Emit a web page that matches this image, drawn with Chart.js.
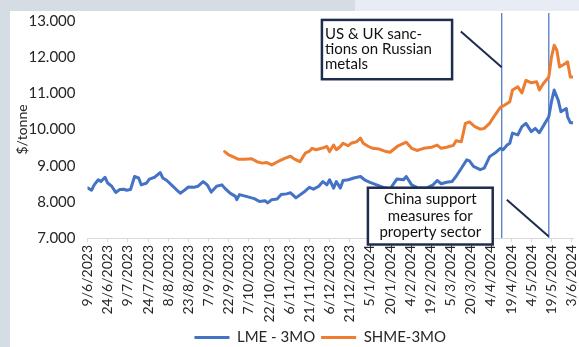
<!DOCTYPE html>
<html>
<head>
<meta charset="utf-8"/>
<title>LME vs SHME 3-month aluminium</title>
<script src="https://cdn.jsdelivr.net/npm/chart.js"></script>
<style>
  html, body { margin: 0; padding: 0; background: #fff; }
</style>
</head>
<body>
<canvas id="priceChart" width="579" height="347"></canvas>
<script>
// Day offsets are counted from 9/6/2023
const tickLabels = ['9/6/2023', '24/6/2023', '9/7/2023', '24/7/2023', '8/8/2023', '23/8/2023',
  '7/9/2023', '22/9/2023', '7/10/2023', '22/10/2023', '6/11/2023', '21/11/2023', '6/12/2023',
  '21/12/2023', '5/1/2024', '20/1/2024', '4/2/2024', '19/2/2024', '5/3/2024', '20/3/2024',
  '4/4/2024', '19/4/2024', '4/5/2024', '19/5/2024', '3/6/2024'];

const lmeDays = [0, 3, 5, 8, 10, 13, 15, 18, 21, 24, 27, 29, 32, 35, 38, 40, 44, 46, 50, 54, 56, 59,
  63, 66, 69, 71, 75, 79, 82, 86, 89, 92, 96, 100, 102, 106, 110, 111, 113, 118, 124, 128, 132, 134,
  137, 141, 144, 148, 151, 155, 162, 165, 168, 172, 175, 178, 180, 183, 185, 188, 190, 194, 198, 203,
  206, 210, 215, 220, 225, 230, 235, 237, 241, 246, 252, 257, 260, 263, 267, 271, 274, 278, 282, 284,
  287, 292, 295, 299, 303, 307, 309, 312, 314, 316, 320, 323, 326, 330, 333, 336, 339, 343, 345, 347,
  350, 352, 356, 357, 359, 361];
const lmeValues = [8390, 8320, 8470, 8610, 8560, 8680, 8520, 8430, 8260, 8340, 8350, 8320, 8340, 8700,
  8660, 8470, 8520, 8630, 8680, 8810, 8660, 8590, 8450, 8340, 8240, 8290, 8410, 8400, 8430, 8560, 8470,
  8270, 8430, 8470, 8380, 8240, 8150, 8060, 8200, 8150, 8090, 8010, 8030, 7970, 8060, 8080, 8200, 8220,
  8250, 8110, 8300, 8400, 8350, 8430, 8560, 8470, 8610, 8380, 8560, 8380, 8590, 8610, 8660, 8700, 8610,
  8540, 8470, 8400, 8360, 8630, 8610, 8700, 8470, 8380, 8380, 8470, 8590, 8500, 8540, 8560, 8700, 8930,
  9160, 9130, 8980, 8890, 8930, 9250, 9350, 9480, 9440, 9570, 9620, 9900, 9850, 10080, 10170, 9940,
  10030, 9910, 10100, 10350, 10770, 11090, 10810, 10490, 10580, 10350, 10190, 10190];

const shmeDays = [102, 105, 108, 112, 117, 122, 126, 130, 133, 137, 141, 143, 147, 151, 154, 158, 162,
  165, 167, 170, 174, 178, 180, 183, 185, 188, 190, 194, 196, 200, 203, 205, 209, 212, 217, 222, 225,
  231, 237, 241, 245, 250, 256, 260, 263, 267, 272, 274, 278, 281, 284, 288, 292, 295, 299, 303, 307,
  310, 314, 316, 320, 323, 326, 330, 334, 336, 339, 343, 345, 347, 349, 351, 355, 357, 359, 361];
const shmeValues = [9390, 9300, 9250, 9180, 9180, 9190, 9110, 9070, 9090, 9020, 9100, 9140, 9210, 9260,
  9180, 9110, 9350, 9400, 9480, 9440, 9480, 9530, 9390, 9570, 9440, 9530, 9620, 9550, 9620, 9660, 9760,
  9620, 9530, 9480, 9460, 9390, 9370, 9550, 9650, 9480, 9420, 9480, 9510, 9570, 9480, 9510, 9560, 9690,
  9660, 10170, 10210, 10080, 10010, 10030, 10170, 10400, 10610, 10670, 10770, 11090, 11180, 11010,
  11360, 11290, 11320, 11090, 11270, 11450, 12000, 12330, 12190, 11730, 11820, 11870, 11450, 11450];

// Event dates (12/4/2024 and 17/5/2024) and their callouts
const eventDays = [308, 343];
const notes = [
  { text: ['US & UK sanc-', 'tions on Russian', 'metals'], align: 'left', gap: 15,
    box: [174.3, 271.1, 13030, 11390], link: [277.6, 12710, 0, 11720] },
  { text: ['China support', 'measures for', 'property sector'], align: 'center', gap: 16.5,
    box: [208.5, 301.3, 8390, 6820], link: [311.8, 8060, 1, 7040] }
];

const FONT = 'Lato, "Open Sans", sans-serif';
const TEXT = '#262626';
const NAVY = '#1e2d4d';

const toPoints = (days, vals) => days.map((d, i) => ({ x: d, y: vals[i] }));
const dayOf = s => {
  const [d, m, y] = s.split('/').map(Number);
  return Math.round((Date.UTC(y, m - 1, d) - Date.UTC(2023, 5, 9)) / 86400000);
};
const tickDays = tickLabels.map(dayOf);
const withDots = v => String(v).replace(/\B(?=(\d{3})+(?!\d))/g, '.');

// grey frame strips behind the chart
const frame = {
  id: 'frame',
  beforeDraw(chart) {
    const c = chart.ctx;
    c.save();
    c.fillStyle = '#ffffff';
    c.fillRect(0, 0, chart.width, chart.height);
    c.fillStyle = '#d5dce4';
    c.fillRect(0, 0, 10, chart.height);
    c.fillRect(0, 0, 355, 11);
    c.fillStyle = '#e8ecf5';
    c.fillRect(355, 0, chart.width - 355, 11);
    c.restore();
  },
  // legend sits a little left of the plot centre
  afterLayout(chart) {
    chart.legend.left -= 10;
    chart.legend.right -= 10;
  }
};

const callouts = {
  id: 'callouts',
  beforeDatasetsDraw(chart) {
    const { ctx, chartArea, scales: { x } } = chart;
    ctx.save();
    ctx.strokeStyle = '#4472c4';
    ctx.lineWidth = 1.2;
    eventDays.forEach(d => {
      const px = x.getPixelForValue(d);
      ctx.beginPath();
      ctx.moveTo(px, chartArea.top - 8);
      ctx.lineTo(px, chartArea.bottom);
      ctx.stroke();
    });
    ctx.restore();
  },
  afterDatasetsDraw(chart) {
    const { ctx, scales: { x, y } } = chart;
    ctx.save();
    notes.forEach(n => {
      const [d0, d1, v0, v1] = n.box;
      const l = x.getPixelForValue(d0), r = x.getPixelForValue(d1);
      const t = y.getPixelForValue(v0), b = y.getPixelForValue(v1);
      // leader line to the event marker
      ctx.strokeStyle = NAVY;
      ctx.lineWidth = 2;
      ctx.beginPath();
      ctx.moveTo(x.getPixelForValue(n.link[0]), y.getPixelForValue(n.link[1]));
      ctx.lineTo(x.getPixelForValue(eventDays[n.link[2]]), y.getPixelForValue(n.link[3]));
      ctx.stroke();
      ctx.fillStyle = '#ffffff';
      ctx.fillRect(l, t, r - l, b - t);
      ctx.lineWidth = 2.5;
      ctx.strokeRect(l, t, r - l, b - t);
      ctx.fillStyle = '#111111';
      ctx.font = '15px ' + FONT;
      ctx.textBaseline = 'middle';
      ctx.textAlign = n.align;
      const tx = n.align === 'left' ? l + 3 : (l + r) / 2;
      const mid = (t + b) / 2;
      n.text.forEach((s, i) => {
        ctx.fillText(s, tx, mid + (i - (n.text.length - 1) / 2) * n.gap);
      });
    });
    ctx.restore();
  }
};

const ctx = document.getElementById('priceChart').getContext('2d');
new Chart(ctx, {
  type: 'line',
  data: {
    datasets: [{
      label: 'LME - 3MO',
      data: toPoints(lmeDays, lmeValues),
      borderColor: '#4472c4',
      backgroundColor: '#4472c4',
      borderWidth: 3,
      pointRadius: 0,
      tension: 0,
      borderJoinStyle: 'round',
      borderCapStyle: 'round'
    }, {
      label: 'SHME-3MO',
      data: toPoints(shmeDays, shmeValues),
      borderColor: '#ed7d31',
      backgroundColor: '#ed7d31',
      borderWidth: 3,
      pointRadius: 0,
      tension: 0,
      borderJoinStyle: 'round',
      borderCapStyle: 'round'
    }]
  },
  options: {
    responsive: false,
    animation: false,
    layout: { padding: { top: 20, left: 10, right: 6, bottom: -8 } },
    plugins: {
      legend: {
        position: 'bottom',
        fullSize: false,
        labels: {
          usePointStyle: true,
          pointStyle: 'line',
          pointStyleWidth: 35,
          padding: 6,
          color: TEXT,
          font: { family: FONT, size: 15 }
        }
      },
      tooltip: { enabled: false }
    },
    scales: {
      x: {
        type: 'linear',
        min: 0,
        max: 361,
        afterBuildTicks: s => { s.ticks = tickDays.map(v => ({ value: v })); },
        afterFit: s => { s.height = 86; s.paddingLeft = 0; s.paddingRight = 0; },
        grid: { drawOnChartArea: false, drawTicks: true, tickLength: 4, color: '#d9d9d9' },
        border: { color: '#d9d9d9' },
        ticks: {
          autoSkip: false,
          minRotation: 90,
          maxRotation: 90,
          padding: 3,
          color: TEXT,
          font: { family: FONT, size: 14 },
          callback: v => tickLabels[tickDays.indexOf(v)]
        }
      },
      y: {
        min: 7000,
        max: 13000,
        afterFit: s => { s.width = 77.5; },
        grid: { display: false, drawTicks: false },
        border: { display: false },
        ticks: {
          stepSize: 1000,
          padding: 12,
          color: TEXT,
          font: { family: FONT, size: 15 },
          callback: v => withDots(v)
        },
        title: {
          display: true,
          text: '$/tonne',
          color: TEXT,
          font: { family: FONT, size: 14 }
        }
      }
    }
  },
  plugins: [frame, callouts]
});
</script>
</body>
</html>
